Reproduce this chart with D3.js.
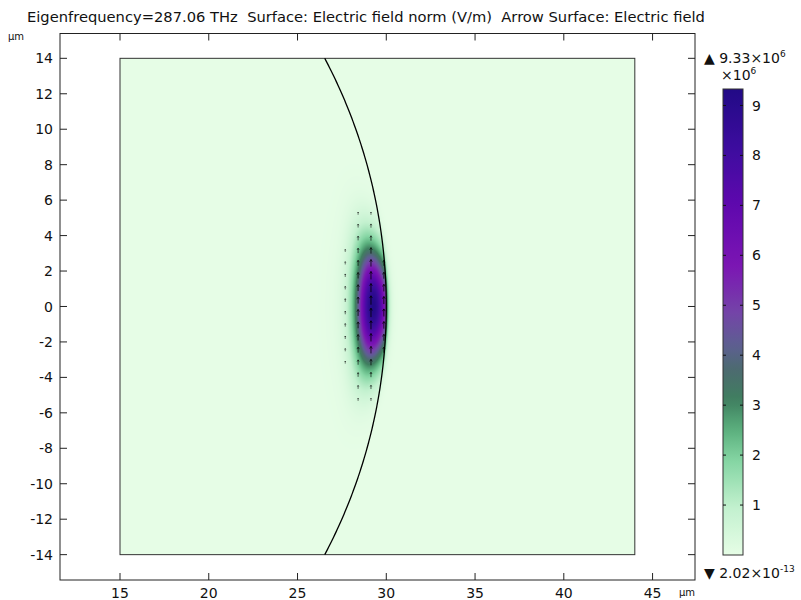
<!DOCTYPE html>
<html>
<head>
<meta charset="utf-8">
<script src="https://cdn.jsdelivr.net/npm/d3@7"></script>
<style>
  html, body { margin: 0; padding: 0; background: #fff; }
  svg { display: block; font-family: "DejaVu Sans", sans-serif; }
  text { white-space: pre; }
</style>
</head>
<body>
<svg id="chart" width="801" height="600"></svg>
<script>
// ---------- data ----------
const titleText = "Eigenfrequency=287.06 THz  Surface: Electric field norm (V/m)  Arrow Surface: Electric field";
const xTicks = [15, 20, 25, 30, 35, 40, 45];
const yTicks = [-14, -12, -10, -8, -6, -4, -2, 0, 2, 4, 6, 8, 10, 12, 14];
const colorbarTicks = [1, 2, 3, 4, 5, 6, 7, 8, 9];       // ×10^6
const fieldMax = 9.33;                                    // ×10^6 V/m
const fieldMaxLabel = ["9.33", "6"];
const fieldMinLabel = ["2.02", "-13"];
const domainX = [15, 44];                                 // µm
const domainY = [-14, 14];                                // µm
const boundaryRadius = 30;                                // µm, arc centered at origin
const modeRadius = 29.25;                                 // µm, mode centre line
const modeSigma = [0.64, 2.2];                            // µm (x, y)
const haloSigma = [1.1, 2.4];                             // µm, weak outer halo
const haloWeight = 0.08;
const outsideDecay = 0.12;                                // µm
const arrowGrid = [40, 40];                               // arrows across domain (x, y)
const paletteValues = [0, 0.93, 1.87, 2.5, 3.1, 3.7, 4.2, 4.85, 5.8, 7.0, 8.1, 9.33];
const paletteColors = ["#e6fde6", "#c3f1cf", "#86d6a4", "#5bb07e", "#3f7f5f", "#4c6b6f",
                       "#5d5f91", "#7444a8", "#7b15b3", "#5f08ae", "#3e0c9f", "#220a86"];

// ---------- layout ----------
const svg = d3.select("#chart");
const frame = { left: 60, right: 695, top: 33.5, bottom: 580 };
const x = d3.scaleLinear().domain([11.62, 47.39]).range([frame.left, frame.right]);
const y = d3.scaleLinear().domain([-15.43, 15.4]).range([frame.bottom, frame.top]);
const color = d3.scaleLinear().domain(paletteValues).range(paletteColors).interpolate(d3.interpolateRgb).clamp(true);

function profile(dx, py) {
  const main = Math.exp(-(dx * dx) / (2 * modeSigma[0] ** 2) - (py * py) / (2 * modeSigma[1] ** 2));
  const halo = Math.exp(-(dx * dx) / (2 * haloSigma[0] ** 2) - (py * py) / (2 * haloSigma[1] ** 2));
  return (1 - haloWeight) * main + haloWeight * halo;
}
function field(px, py) {
  const r = Math.hypot(px, py);
  const yy = Math.min(Math.abs(py), modeRadius);
  const x0 = Math.sqrt(modeRadius * modeRadius - yy * yy);
  if (r <= boundaryRadius) {
    return fieldMax * profile(px - x0, py);
  } else {
    const bx = Math.sqrt(Math.max(boundaryRadius * boundaryRadius - py * py, 0));
    return fieldMax * profile(bx - x0, py) * Math.exp(-(r - boundaryRadius) / outsideDecay);
  }
}

// ---------- field raster ----------
const x0p = Math.round(x(domainX[0])), x1p = Math.round(x(domainX[1]));
const y0p = Math.round(y(domainY[1])), y1p = Math.round(y(domainY[0]));
const W = x1p - x0p, H = y1p - y0p;
const canvas = document.createElement("canvas");
canvas.width = W; canvas.height = H;
const ctx = canvas.getContext("2d");
const img = ctx.createImageData(W, H);
for (let j = 0; j < H; j++) {
  const py = y.invert(y0p + j + 0.5);
  for (let i = 0; i < W; i++) {
    const px = x.invert(x0p + i + 0.5);
    const c = d3.rgb(color(field(px, py)));
    const k = (j * W + i) * 4;
    img.data[k] = c.r; img.data[k + 1] = c.g; img.data[k + 2] = c.b; img.data[k + 3] = 255;
  }
}
ctx.putImageData(img, 0, 0);
svg.append("image")
  .attr("x", x0p).attr("y", y0p).attr("width", W).attr("height", H)
  .attr("href", canvas.toDataURL());

// ---------- domain outline and arc ----------
svg.append("rect")
  .attr("x", x(domainX[0])).attr("y", y(domainY[1]))
  .attr("width", x(domainX[1]) - x(domainX[0])).attr("height", y(domainY[0]) - y(domainY[1]))
  .attr("fill", "none").attr("stroke", "#333").attr("stroke-width", 1);

const arcY = d3.range(domainY[0], domainY[1] + 0.001, 0.1);
svg.append("path")
  .datum(arcY)
  .attr("d", d3.line().x(d => x(Math.sqrt(boundaryRadius * boundaryRadius - d * d))).y(d => y(d)))
  .attr("fill", "none").attr("stroke", "#000").attr("stroke-width", 1.3);

// ---------- arrows ----------
const dxg = (domainX[1] - domainX[0]) / arrowGrid[0];
const dyg = (domainY[1] - domainY[0]) / arrowGrid[1];
const arrows = [];
for (let i = 0; i < arrowGrid[0]; i++) {
  for (let j = 0; j < arrowGrid[1]; j++) {
    const ax = domainX[0] + (i + 0.5) * dxg, ay = domainY[0] + (j + 0.5) * dyg;
    if (Math.hypot(ax, ay) > boundaryRadius) continue;
    const v = field(ax, ay) / fieldMax;
    const len = 9 * Math.pow(v, 0.4);
    if (len < 2.4) continue;
    arrows.push({ ax, ay, len, v });
  }
}
const ag = svg.append("g");
arrows.forEach(a => {
  const cx = x(a.ax), cy = y(a.ay);
  const op = 0.3 + 0.65 * Math.pow(a.v, 0.3);
  ag.append("line")
    .attr("x1", cx).attr("x2", cx).attr("y1", cy + a.len / 2).attr("y2", cy - a.len / 2)
    .attr("stroke", "#000").attr("stroke-width", 0.9).attr("stroke-opacity", op);
  const h = Math.min(2.2, a.len * 0.35);
  ag.append("path")
    .attr("d", `M${cx - h * 0.6},${cy - a.len / 2 + h}L${cx},${cy - a.len / 2}L${cx + h * 0.6},${cy - a.len / 2 + h}`)
    .attr("fill", "none").attr("stroke", "#000").attr("stroke-width", 0.8).attr("stroke-opacity", op);
});

// ---------- frame and ticks ----------
const axisColor = "#222";
svg.append("rect")
  .attr("x", frame.left).attr("y", frame.top)
  .attr("width", frame.right - frame.left).attr("height", frame.bottom - frame.top)
  .attr("fill", "none").attr("stroke", axisColor).attr("stroke-width", 1);

const tl = 7;
const tg = svg.append("g").attr("stroke", axisColor).attr("stroke-width", 1);
xTicks.forEach(t => {
  tg.append("line").attr("x1", x(t)).attr("x2", x(t)).attr("y1", frame.bottom).attr("y2", frame.bottom - tl);
  tg.append("line").attr("x1", x(t)).attr("x2", x(t)).attr("y1", frame.top).attr("y2", frame.top + tl);
});
yTicks.forEach(t => {
  tg.append("line").attr("x1", frame.left).attr("x2", frame.left + tl).attr("y1", y(t)).attr("y2", y(t));
  tg.append("line").attr("x1", frame.right).attr("x2", frame.right - tl).attr("y1", y(t)).attr("y2", y(t));
});

const lab = svg.append("g").attr("fill", "#111").attr("font-size", 14);
xTicks.forEach(t => {
  lab.append("text").attr("x", x(t)).attr("y", 598).attr("text-anchor", "middle").text(t);
});
yTicks.forEach(t => {
  lab.append("text").attr("x", 53).attr("y", y(t)).attr("dy", "0.36em").attr("text-anchor", "end").text(t);
});

svg.append("text").attr("x", 8).attr("y", 40).attr("font-size", 10).attr("fill", "#111").text("µm");
svg.append("text").attr("x", 679).attr("y", 596).attr("font-size", 10).attr("fill", "#111").text("µm");

// ---------- title ----------
svg.append("text").attr("x", 27).attr("y", 22).attr("font-size", 14.7).attr("fill", "#111")
  .attr("xml:space", "preserve").text(titleText);

// ---------- colorbar ----------
const cb = { x: 723, w: 20, top: 89, bottom: 555 };
const cy = d3.scaleLinear().domain([0, fieldMax]).range([cb.bottom, cb.top]);
const defs = svg.append("defs");
const grad = defs.append("linearGradient").attr("id", "cbgrad")
  .attr("x1", 0).attr("y1", 1).attr("x2", 0).attr("y2", 0);
d3.range(0, 1.0001, 0.02).forEach(f => {
  grad.append("stop").attr("offset", f).attr("stop-color", color(f * fieldMax));
});
svg.append("rect").attr("x", cb.x).attr("y", cb.top).attr("width", cb.w).attr("height", cb.bottom - cb.top)
  .attr("fill", "url(#cbgrad)").attr("stroke", "#333").attr("stroke-width", 1);
const cbt = svg.append("g").attr("stroke", "#111").attr("stroke-width", 1);
colorbarTicks.forEach(t => {
  cbt.append("line").attr("x1", cb.x).attr("x2", cb.x + 3).attr("y1", cy(t)).attr("y2", cy(t));
  cbt.append("line").attr("x1", cb.x + cb.w - 3).attr("x2", cb.x + cb.w).attr("y1", cy(t)).attr("y2", cy(t));
  lab.append("text").attr("x", 752).attr("y", cy(t)).attr("dy", "0.36em").text(t);
});

// max / min labels
const maxT = svg.append("text").attr("x", 704).attr("y", 63).attr("font-size", 14).attr("fill", "#111");
maxT.append("tspan").text("▲ " + fieldMaxLabel[0] + "×10");
maxT.append("tspan").attr("font-size", 9).attr("dy", -6).text(fieldMaxLabel[1]);
const expT = svg.append("text").attr("x", 721).attr("y", 80).attr("font-size", 14).attr("fill", "#111");
expT.append("tspan").text("×10");
expT.append("tspan").attr("font-size", 9).attr("dy", -6).text("6");
const minT = svg.append("text").attr("x", 704).attr("y", 578).attr("font-size", 14).attr("fill", "#111");
minT.append("tspan").text("▼ " + fieldMinLabel[0] + "×10");
minT.append("tspan").attr("font-size", 9).attr("dy", -6).text(fieldMinLabel[1]);
</script>
</body>
</html>
